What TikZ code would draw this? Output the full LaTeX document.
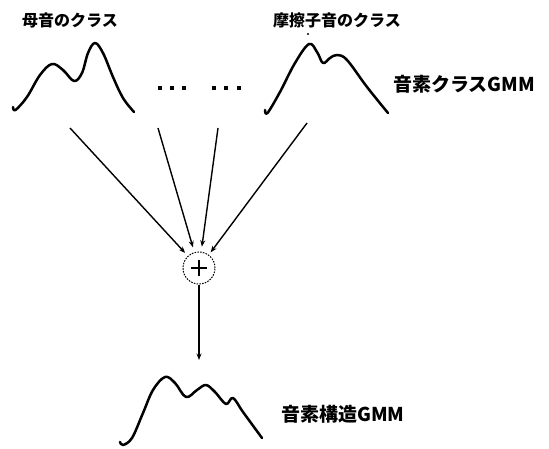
\documentclass[tikz,border=0pt]{standalone}
\usepackage{fontspec}
\newfontfamily\cjk{Noto Sans CJK JP}
\usetikzlibrary{arrows.meta}
\tikzset{
  lbl/.style={inner sep=0pt, font=\cjk\bfseries\fontsize{16}{16}\selectfont},
  gmm/.style={inner sep=0pt, anchor=west, font=\cjk\bfseries\fontsize{19}{19}\selectfont},
  curve/.style={line width=2.5pt, line cap=round, line join=round},
  conn/.style={line width=1.4pt, -{Stealth[length=6.5pt,width=5pt]}},
  sumnode/.style={circle, draw, line width=1pt, dash pattern=on 1.6pt off 1.2pt,
    minimum size=32pt, inner sep=0pt,
    path picture={\draw[solid, line width=2.3pt]
      ([xshift=-8pt]path picture bounding box.center) -- ([xshift=8pt]path picture bounding box.center)
      ([yshift=-7.5pt]path picture bounding box.center) -- ([yshift=7.5pt]path picture bounding box.center);}},
  dotmark/.style={fill=black, draw=none}
}
\begin{document}
\begin{tikzpicture}[x=1pt,y=-1pt]
\useasboundingbox (0,0) rectangle (549,449);
% labels
\node[lbl] (vowel) at (70,20) {母音のクラス};
\node[lbl] (fric) at (337,20) {摩擦子音のクラス};
\node[gmm] (classgmm) at (393,84) {音素クラスGMM};
\node[gmm] (structgmm) at (281,414) {音素構造GMM};
% stray dot
\fill (308,34) circle (1.1pt);
% curve 1
\draw[curve] plot[smooth, tension=0.6] coordinates {(13,107) (15.5,110) (27,97) (40,75) (52,64) (63,70) (74,81) (82,73) (88,53) (95,43) (103,53) (113,77) (123,98) (134,112)};
% curve 2
\draw[curve] plot[smooth, tension=0.6] coordinates {(265,110) (267.5,113) (280,92) (295,63) (309,44) (317,52) (323,63) (330,58) (337,55) (347,60) (367,87) (388,113)};
% curve 3
\draw[curve] plot[smooth, tension=0.6] coordinates {(120,442) (123,445) (132,438) (143,413) (153,390) (165,377) (175,383) (186,397) (197,390) (206,385) (215,392) (226,404) (233,398) (243,412) (262,438)};
% ellipsis dots
\foreach \x in {160,172,184,214,226,239} \fill[dotmark] (\x-2.3,85.7) rectangle (\x+2.3,90.3);
% sum node
\node[sumnode] (sum) at (199,268) {};
% arrow starts
\coordinate (s1) at (70,128);
\coordinate (s2) at (158,128);
\coordinate (s3) at (218,128);
\coordinate (s4) at (307,123);
\coordinate (out) at (199,360);
\draw[conn, shorten >=4pt] (s1) -- (sum);
\draw[conn, shorten >=5pt] (s2) -- (sum);
\draw[conn, shorten >=5pt] (s3) -- (sum);
\draw[conn, shorten >=3pt] (s4) -- (sum);
\draw[conn] (sum) -- (out);
\end{tikzpicture}
\end{document}
